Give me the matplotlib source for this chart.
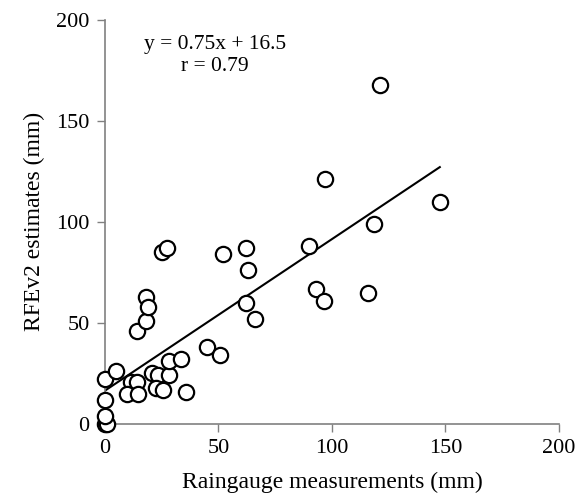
import matplotlib
matplotlib.use('Agg')
import matplotlib.pyplot as plt
import numpy as np

# raingauge (x) vs RFEv2 (y), mm
gauge = [0, 1, 0, 0, 0, 5, 11.5, 14, 9.5, 14.5, 20.5, 23.5, 28, 28, 33.5,
         22.5, 25.5, 35.5, 45, 50.5, 14, 18, 18, 19, 25, 27.5, 52,
         62, 63, 62, 66, 90, 93, 96.5, 97, 116, 118.5, 121, 147.5]
rfe = [0, 0, 4, 12, 22, 26, 21, 21, 15, 15, 25, 24, 24, 31, 32,
       18, 17, 16, 38, 34, 46, 51, 63, 58, 85, 87, 84,
       87, 76, 60, 52, 88, 67, 61, 121, 65, 99, 168, 110]
slope, intercept = 0.75, 16.5
ticks = [0, 50, 100, 150, 200]

plt.rcParams['font.family'] = ['Liberation Serif', 'DejaVu Serif']

fig = plt.figure(figsize=(5.85, 4.97), dpi=100)
ax = fig.add_axes([0.1795, 0.147, 0.776, 0.813])

xl = np.array([0, max(gauge)])
ax.plot(xl, slope * xl + intercept, color='black', lw=1.5, zorder=2)
ax.plot(gauge, rfe, 'o', ms=11, mfc='white', mec='black', mew=1.6,
        clip_on=False, zorder=3)

ax.set_xlim(0, 200)
ax.set_ylim(0, 200)
ax.set_xticks(ticks)
ax.set_yticks(ticks)
ax.tick_params(direction='out', length=6, width=1, color='#808080',
               labelsize=16)
ax.tick_params(axis='x', pad=5)
ax.tick_params(axis='y', pad=5)
for s in ['top', 'right']:
    ax.spines[s].set_visible(False)
for s in ['left', 'bottom']:
    ax.spines[s].set_color('#808080')
    ax.spines[s].set_linewidth(1.2)

ax.set_xlabel('Raingauge measurements (mm)', fontsize=17, labelpad=10)
ax.set_ylabel('RFEv2 estimates (mm)', fontsize=17, labelpad=8)

ax.text(0.242, 0.963, 'y = 0.75x + 16.5\nr = 0.79', transform=ax.transAxes,
        fontsize=15.5, ha='center', va='top', linespacing=1.2,
        multialignment='center')

fig.savefig('out.png', dpi=100)
